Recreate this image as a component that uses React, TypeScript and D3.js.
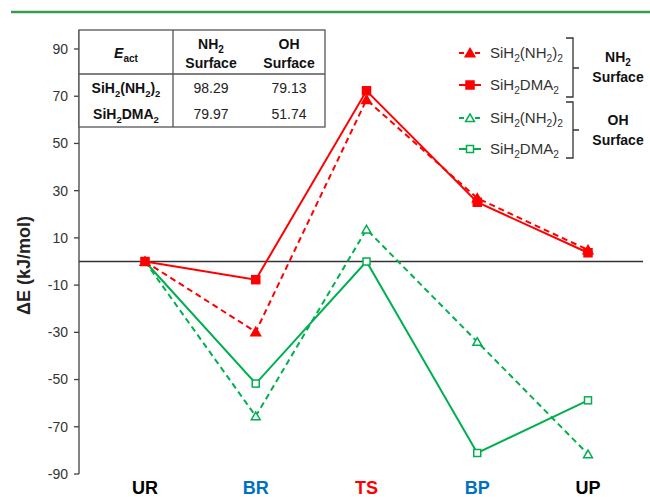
import React from "react";
import * as d3 from "d3";

// reaction stages along the x axis
const stages = ["UR", "BR", "TS", "BP", "UP"];
const stageColors = ["#000000", "#0070C0", "#FF0000", "#0070C0", "#000000"];

// energies (kJ/mol)
const nh2SurfNh2 = [0, -29.8, 68.5, 26.8, 4.9];
const nh2SurfDma = [0, -7.7, 72.3, 25.1, 3.7];
const ohSurfNh2 = [0, -65.5, 13.6, -34.0, -81.6];
const ohSurfDma = [0, -51.7, 0, -81.1, -58.8];

const yTicks = [90, 70, 50, 30, 10, -10, -30, -50, -70, -90];

// activation energy table
const tableRows = [
  [["SiH", false], ["2", true], ["(NH", false], ["2", true], [")", false], ["2", true]],
  [["SiH", false], ["2", true], ["DMA", false], ["2", true]],
];
const eactNh2 = ["98.29", "79.97"];
const eactOh = ["79.13", "51.74"];

const RED = "#FF0000";
const GREEN = "#00B050";

const series = [
  { name: [["SiH", false], ["2", true], ["(NH", false], ["2", true], [")", false], ["2", true]], values: nh2SurfNh2, color: RED, dash: "6,4", marker: "triangle", fill: true },
  { name: [["SiH", false], ["2", true], ["DMA", false], ["2", true]], values: nh2SurfDma, color: RED, dash: null, marker: "square", fill: true },
  { name: [["SiH", false], ["2", true], ["(NH", false], ["2", true], [")", false], ["2", true]], values: ohSurfNh2, color: GREEN, dash: "6,4", marker: "triangle", fill: false },
  { name: [["SiH", false], ["2", true], ["DMA", false], ["2", true]], values: ohSurfDma, color: GREEN, dash: null, marker: "square", fill: false },
];

const FONT = "Arial, 'Liberation Sans', sans-serif";

function Sub({ parts, size }: { parts: any[]; size: number }) {
  // text with subscripts made of tspans
  return (
    <>
      {parts.map((p, i) =>
        p[1] ? (
          <tspan key={i} fontSize={size * 0.68} dy={size * 0.25}>{p[0]}</tspan>
        ) : (
          <tspan key={i} fontSize={size} dy={i > 0 && parts[i - 1][1] ? -size * 0.25 : 0}>{p[0]}</tspan>
        )
      )}
    </>
  );
}

function Marker({ x, y, kind, color, fill }: any) {
  if (kind === "square") {
    const s = fill ? 8 : 7;
    return <rect x={x - s / 2} y={y - s / 2} width={s} height={s} fill={fill ? color : "white"} stroke={color} strokeWidth={1.5} />;
  }
  const tri = d3.symbol().type(d3.symbolTriangle).size(fill ? 40 : 34)();
  return <path d={tri as string} transform={`translate(${x},${y + 1})`} fill={fill ? color : "white"} stroke={color} strokeWidth={1.5} />;
}

export default function App() {
  const width = 650;
  const height = 497;
  const axisX = 79;
  const plotRight = 643;
  const axisTop = 30;

  const y = d3.scaleLinear().domain([-90, 90]).range([474, 49]);
  const x = d3.scalePoint().domain(stages).range([145, 588]);

  const line = d3
    .line<number>()
    .x((_, i) => x(stages[i]) as number)
    .y((d) => y(d));

  // table layout
  const tL = axisX, tR = 325, tT = axisTop, tH = 74, tB = 127, tC = 173;
  const col2 = 211, col3 = 289;

  const legendX = 459;
  const legendY = [53, 85, 118, 149];

  return (
    <svg width={width} height={height} style={{ position: "absolute", left: 0, top: 0, fontFamily: FONT }}>
      <rect width={width} height={height} fill="white" />
      <line x1={11} x2={650} y1={12} y2={12} stroke="#3A9C4A" strokeWidth={2.5} />

      {/* y axis */}
      <line x1={axisX} x2={axisX} y1={axisTop} y2={y(-90)} stroke="#404040" strokeWidth={1.3} />
      {yTicks.map((t) => (
        <g key={t}>
          <line x1={axisX - 5} x2={axisX} y1={y(t)} y2={y(t)} stroke="#404040" strokeWidth={1.3} />
          <text x={axisX - 11} y={y(t)} dy="0.35em" textAnchor="end" fontSize={14} fill="#333">
            {t}
          </text>
        </g>
      ))}
      <text transform={`translate(30,${y(0) + 4}) rotate(-90)`} textAnchor="middle" fontSize={18} fontWeight="bold" fill="#222">
        ΔE (kJ/mol)
      </text>

      {/* zero line */}
      <line x1={axisX} x2={plotRight} y1={y(0)} y2={y(0)} stroke="#333" strokeWidth={1.5} />

      {/* stage labels */}
      {stages.map((s, i) => (
        <text key={s} x={x(s)} y={494} textAnchor="middle" fontSize={18} fontWeight="bold" fill={stageColors[i]}>
          {s}
        </text>
      ))}

      {/* series, drawn green first so red sits on top */}
      {[...series].reverse().map((s, k) => (
        <g key={k}>
          <path d={line(s.values) as string} fill="none" stroke={s.color} strokeWidth={2} strokeDasharray={s.dash || undefined} />
          {s.values.map((v, i) => (
            <Marker key={i} x={x(stages[i])} y={y(v)} kind={s.marker} color={s.color} fill={s.fill} />
          ))}
        </g>
      ))}

      {/* table */}
      <g stroke="#555" strokeWidth={1.3} fill="none">
        <rect x={tL} y={tT} width={tR - tL} height={tB - tT} fill="white" />
        <line x1={tL} x2={tR} y1={tH} y2={tH} />
        <line x1={tC} x2={tC} y1={tT} y2={tB} />
      </g>
      <text x={(tL + tC) / 2} y={58} textAnchor="middle" fontWeight="bold" fontSize={14} fill="#111">
        <tspan fontStyle="italic">E</tspan>
        <tspan fontSize={10} dy={4}>act</tspan>
      </text>
      {[["NH", "2"], ["OH", ""]].map((h, i) => (
        <g key={i}>
          <text x={i === 0 ? col2 : col3} y={49} textAnchor="middle" fontWeight="bold" fontSize={14} fill="#111">
            {h[0]}
            {h[1] && <tspan fontSize={10} dy={4}>{h[1]}</tspan>}
          </text>
          <text x={i === 0 ? col2 : col3} y={68} textAnchor="middle" fontWeight="bold" fontSize={14} fill="#111">
            Surface
          </text>
        </g>
      ))}
      {tableRows.map((r, i) => (
        <g key={i}>
          <text x={(tL + tC) / 2} y={93 + i * 26} textAnchor="middle" fontWeight="bold" fontSize={14} fill="#111">
            <Sub parts={r} size={14} />
          </text>
          <text x={col2} y={93 + i * 26} textAnchor="middle" fontSize={14} fill="#222">{eactNh2[i]}</text>
          <text x={col3} y={93 + i * 26} textAnchor="middle" fontSize={14} fill="#222">{eactOh[i]}</text>
        </g>
      ))}

      {/* legend */}
      {series.map((s, i) => (
        <g key={i}>
          <line x1={legendX} x2={legendX + 22} y1={legendY[i]} y2={legendY[i]} stroke={s.color} strokeWidth={2} strokeDasharray={s.dash ? "5,3" : undefined} />
          <Marker x={legendX + 11} y={legendY[i]} kind={s.marker} color={s.color} fill={s.fill} />
          <text x={legendX + 31} y={legendY[i] + 5} fontSize={15} fill="#333">
            <Sub parts={s.name} size={15} />
          </text>
        </g>
      ))}
      {[[38, 97, 68], [102, 158, 130]].map((b, i) => (
        <path key={i} d={`M566,${b[0]} H573 V${b[1]} H566 M573,${b[2]} H579`} fill="none" stroke="#333" strokeWidth={1.3} />
      ))}
      <text x={618} y={62} textAnchor="middle" fontWeight="bold" fontSize={14} fill="#111">
        NH<tspan fontSize={10} dy={4}>2</tspan>
      </text>
      <text x={618} y={82} textAnchor="middle" fontWeight="bold" fontSize={14} fill="#111">Surface</text>
      <text x={618} y={125} textAnchor="middle" fontWeight="bold" fontSize={14} fill="#111">OH</text>
      <text x={618} y={145} textAnchor="middle" fontWeight="bold" fontSize={14} fill="#111">Surface</text>
    </svg>
  );
}
